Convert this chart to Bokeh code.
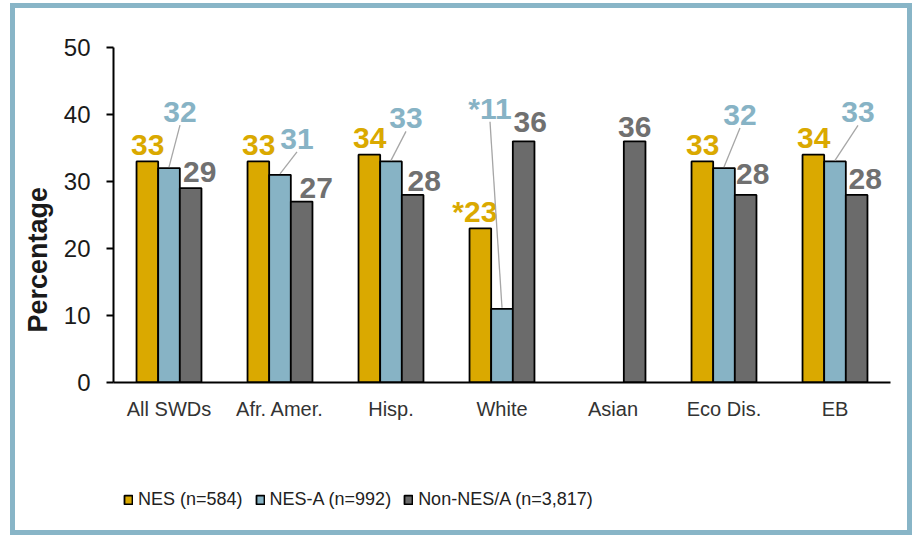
from bokeh.plotting import figure
from bokeh.layouts import column
from bokeh.models import ColumnDataSource, Range1d, FixedTicker, Legend, LegendItem, Title
from bokeh.core.properties import value
from bokeh.embed import file_html
from bokeh.resources import INLINE

# ---------------- data ----------------
categories = ["All SWDs", "Afr. Amer.", "Hisp.", "White", "Asian", "Eco Dis.", "EB"]
series_names = ["NES (n=584)", "NES-A (n=992)", "Non-NES/A (n=3,817)"]
nes = [33, 33, 34, 23, None, 33, 34]
nes_a = [32, 31, 33, 11, None, 32, 33]
non_nes = [29, 27, 28, 36, 36, 28, 28]
nes_flag = [False, False, False, True, False, False, False]
nes_a_flag = [False, False, False, True, False, False, False]
y_ticks = [0, 10, 20, 30, 40, 50]

# ---------------- styles / layout ----------------
colors = ["#DAA900", "#87B3C5", "#6B6B6B"]
label_colors = ["#DAA900", "#87B3C5", "#707070"]
BORDER = "#88B5C7"
BW = 0.195                      # bar width in category units
offsets = [-BW, 0.0, BW]
PX_X = 111.0                    # pixels per category
PX_Y = 6.7                      # pixels per percentage point
FONT = "Liberation Sans"

# label placement tweaks (pixels, relative to bar centre / top)
nes_lbl_dx, nes_lbl_dy = 17, 16.5
nes_a_lbl_dx = [11, 17, 15, -12, 0, 16, 23]
nes_a_lbl_dy = [56, 36, 43, 200, 0, 53, 49]
non_lbl_dx = [9, 14.5, 11.5, 6.5, 0, 7, 8.5]
non_lbl_dy = [16, 14, 14, 19, 14, 21, 16]

p = figure(width=892, height=440, output_backend="svg", toolbar_location=None, tools="",
           x_range=Range1d(0, len(categories)), y_range=Range1d(0, 50),
           min_border_left=98, min_border_right=17, min_border_top=39,
           min_border_bottom=66)
p.outline_line_color = None
p.grid.visible = False
p.background_fill_color = "white"
p.border_fill_color = "white"

sources = []
for s, (vals, col) in enumerate(zip([nes, nes_a, non_nes], colors)):
    xs, tops = [], []
    for i, v in enumerate(vals):
        if v is None:
            continue
        xs.append(i + 0.5 + offsets[s])
        tops.append(v)
    src = ColumnDataSource(dict(x=xs, top=tops))
    sources.append(src)
    p.vbar(x="x", top="top", bottom=0, width=BW, source=src,
           fill_color=col, line_color="black", line_width=1.8)

# NES labels
d = dict(x=[], y=[], t=[])
for i, v in enumerate(nes):
    if v is None:
        continue
    d["x"].append(i + 0.5 + offsets[0] + nes_lbl_dx / PX_X)
    d["y"].append(v + nes_lbl_dy / PX_Y)
    d["t"].append(("*" if nes_flag[i] else "") + str(v))
p.text(x="x", y="y", text="t", source=ColumnDataSource(d), text_align="right",
       text_baseline="alphabetic", text_font=value(FONT), text_font_style="bold",
       text_font_size=value("30px"), text_color=label_colors[0])

# NES-A labels with leader lines
d = dict(x=[], y=[], t=[])
seg = dict(x0=[], y0=[], x1=[], y1=[])
for i, v in enumerate(nes_a):
    if v is None:
        continue
    bx = i + 0.5 + offsets[1]
    lx = bx + nes_a_lbl_dx[i] / PX_X
    ly = v + nes_a_lbl_dy[i] / PX_Y
    d["x"].append(lx)
    d["y"].append(ly)
    d["t"].append(("*" if nes_a_flag[i] else "") + str(v))
    seg["x0"].append(lx)
    seg["y0"].append(ly - 13 / PX_Y)
    seg["x1"].append(bx)
    seg["y1"].append(v + 1 / PX_Y)
p.segment(x0="x0", y0="y0", x1="x1", y1="y1", source=ColumnDataSource(seg),
          line_color="#A6A6A6", line_width=1.3)
p.text(x="x", y="y", text="t", source=ColumnDataSource(d), text_align="center",
       text_baseline="alphabetic", text_font=value(FONT), text_font_style="bold",
       text_font_size=value("30px"), text_color=label_colors[1])

# Non-NES/A labels
d = dict(x=[], y=[], t=[])
for i, v in enumerate(non_nes):
    if v is None:
        continue
    d["x"].append(i + 0.5 + offsets[2] + non_lbl_dx[i] / PX_X)
    d["y"].append(v + non_lbl_dy[i] / PX_Y)
    d["t"].append(str(v))
p.text(x="x", y="y", text="t", source=ColumnDataSource(d), text_align="center",
       text_baseline="alphabetic", text_font=value(FONT), text_font_style="bold",
       text_font_size=value("30px"), text_color=label_colors[2])

# axes
p.xaxis.ticker = FixedTicker(ticks=[i + 0.5 for i in range(len(categories))])
p.xaxis.major_label_overrides = {i + 0.5: c for i, c in enumerate(categories)}
p.xaxis.major_tick_line_color = None
p.xaxis.minor_tick_line_color = None
p.xaxis.axis_line_width = 2
p.xaxis.axis_line_color = "black"
p.xaxis.major_label_standoff = 9
p.xaxis.major_label_text_font = FONT
p.xaxis.major_label_text_font_size = "20px"
p.xaxis.major_label_text_color = "#333333"

p.yaxis.ticker = FixedTicker(ticks=y_ticks)
p.yaxis.major_tick_out = 7
p.yaxis.major_tick_in = 0
p.yaxis.minor_tick_line_color = None
p.yaxis.axis_line_width = 2
p.yaxis.major_tick_line_width = 2
p.yaxis.axis_line_color = "black"
p.yaxis.major_tick_line_color = "black"
p.yaxis.major_label_standoff = 16
p.yaxis.major_label_text_font = FONT
p.yaxis.major_label_text_font_size = "24px"
p.yaxis.major_label_text_color = "#1A1A1A"

p.add_layout(Title(text="Percentage", align="left", offset=50, vertical_align="middle",
                   standoff=13, text_font=FONT, text_font_style="bold",
                   text_font_size="27px", text_color="#1A1A1A"), "left")

# legend strip (small figure below the chart; hidden bar renderers sharing the bar sources)
pl = figure(width=892, height=82, output_backend="svg", toolbar_location=None, tools="",
            x_range=p.x_range, y_range=p.y_range, x_axis_type=None, y_axis_type=None,
            min_border=0)
pl.outline_line_color = None
pl.grid.visible = False
pl.background_fill_color = "white"
pl.border_fill_color = "white"
leg_renderers = [pl.vbar(x="x", top="top", bottom=0, width=BW, source=src, fill_color=c,
                         line_color="black", line_width=1.8, visible=False)
                 for src, c in zip(sources, colors)]
legend = Legend(items=[LegendItem(label=n, renderers=[r]) for n, r in zip(series_names, leg_renderers)],
                location=(10, 20), orientation="horizontal", spacing=12, label_standoff=5,
                glyph_width=10, glyph_height=11, padding=0, margin=0,
                border_line_color=None, background_fill_alpha=0, inactive_fill_alpha=0,
                label_text_font=FONT, label_text_font_size="18px", label_text_color="#222222")
pl.add_layout(legend)

page = column(p, pl, spacing=0,
              styles={"background-color": "white", "border": "5px solid " + BORDER,
                      "margin-left": "10px", "margin-top": "3px"})

open("out.html", "w").write(file_html(page, INLINE))
